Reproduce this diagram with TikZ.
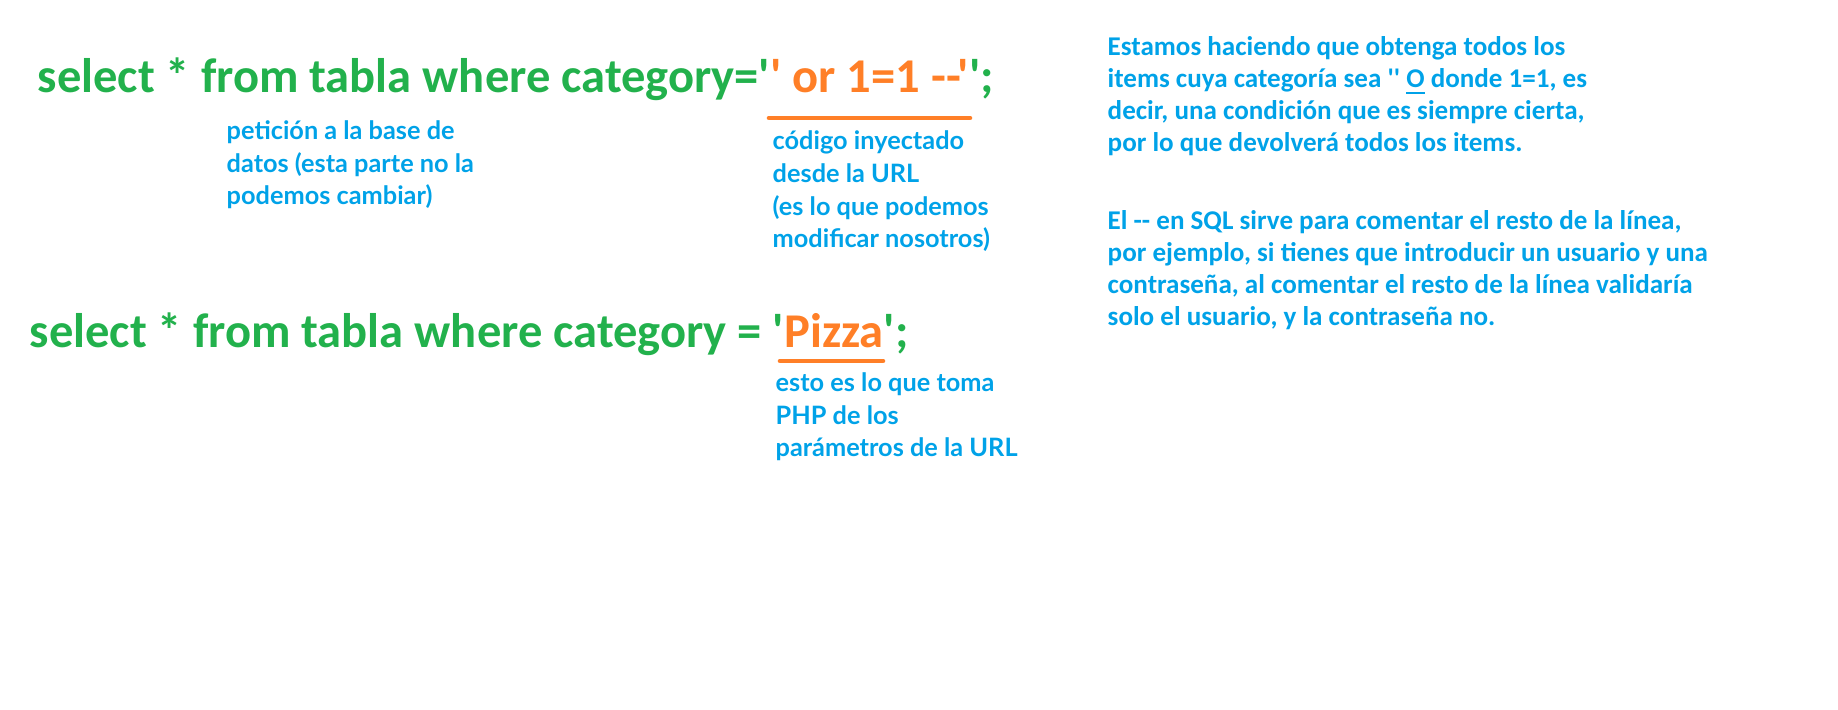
\documentclass[tikz,border=0pt]{standalone}
\usepackage{fontspec}
\newfontfamily\sqlfont{Carlito}
\newfontfamily\notefont{Lato}
\definecolor{sqlgreen}{RGB}{34,177,76}
\definecolor{injorange}{RGB}{255,127,39}
\definecolor{noteblue}{RGB}{0,162,232}
\usetikzlibrary{positioning}
\tikzset{
  sqlline/.style={anchor=base west,inner sep=0pt,text=sqlgreen,
    font=\sqlfont\bfseries\fontsize{13.8}{17}\selectfont},
  sidenote/.style={anchor=base west,inner sep=0pt,align=left,text=noteblue,
    font=\sqlfont\bfseries\fontsize{7.7}{9.1}\selectfont},
  labelnote/.style={anchor=base west,inner sep=0pt,align=left,text=noteblue,
    font=\notefont\bfseries\fontsize{7.2}{9.3}\selectfont},
  mark line/.style={draw=injorange,line width=1.3pt,line cap=round}
}

\begin{document}
\begin{tikzpicture}[x=0.01cm,y=-0.01cm]
  \useasboundingbox (0,0) rectangle (1838,710);

  % Query 1: injected
  \node[sqlline] (query1) at (37,93)
    {select * from tabla where category='\textcolor{injorange}{' or 1=1 --'}';};
  \coordinate (inj1a) at (769,118);
  \coordinate (inj1b) at (970,118);
  \draw[mark line] (inj1a) -- (inj1b);

  % Note: fixed part (base = last line)
  \node[labelnote] (fixednote) at (226,205)
    {petición a la base de\\datos (esta parte no la\\podemos cambiar)};

  % Note: injected part
  \node[labelnote] (injnote) at (772,248)
    {código inyectado\\desde la URL\\(es lo que podemos\\modificar nosotros)};

  % Query 2: normal
  \node[sqlline] (query2) at (29,348)
    {select * from tabla where category = '\textcolor{injorange}{Pizza}';};
  \coordinate (inj2a) at (780,361);
  \coordinate (inj2b) at (883,361);
  \draw[mark line] (inj2a) -- (inj2b);

  % Note: URL parameter
  \node[labelnote] (paramnote) at (775,457)
    {esto es lo que toma\\PHP de los\\parámetros de la URL};

  % Explanations on the right
  \node[sidenote] (explain1) at (1107,152)
    {Estamos haciendo que obtenga todos los\\items cuya categoría sea '' \underline{O} donde 1=1, es\\decir, una condición que es siempre cierta,\\por lo que devolverá todos los items.};
  \node[sidenote] (explain2) at (1107,326)
    {El -- en SQL sirve para comentar el resto de la línea,\\por ejemplo, si tienes que introducir un usuario y una\\contraseña, al comentar el resto de la línea validaría\\solo el usuario, y la contraseña no.};
\end{tikzpicture}
\end{document}
